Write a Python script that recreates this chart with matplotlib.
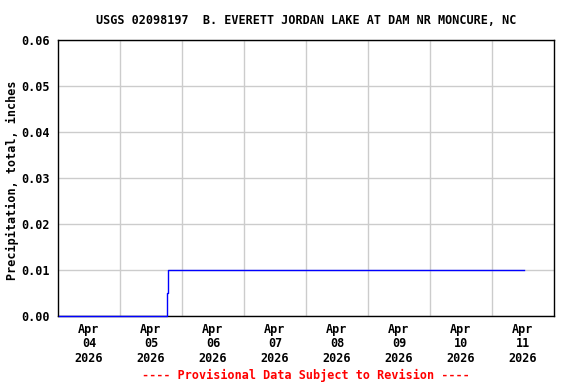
import matplotlib
matplotlib.use("Agg")
import matplotlib.pyplot as plt
import matplotlib.dates as mdates
import numpy as np
import pandas as pd

title = "USGS 02098197  B. EVERETT JORDAN LAKE AT DAM NR MONCURE, NC"
ylabel = "Precipitation, total, inches"
footer = "---- Provisional Data Subject to Revision ----"

times = pd.to_datetime([
    "2026-04-04 00:15", "2026-04-05 18:00", "2026-04-05 18:15",
    "2026-04-05 18:30", "2026-04-11 12:30",
])
values = [0.00, 0.005, 0.005, 0.01, 0.01]

xlim = (pd.Timestamp("2026-04-04 00:00"), pd.Timestamp("2026-04-12 00:00"))
label_days = pd.date_range("2026-04-04 12:00", "2026-04-11 12:00", freq="D")
grid_days = pd.date_range("2026-04-05", "2026-04-11", freq="D")
yticks = [0.00, 0.01, 0.02, 0.03, 0.04, 0.05, 0.06]

fam = "DejaVu Sans Mono"
fs = 8.5
fig = plt.figure(figsize=(5.76, 3.84), dpi=100)
ax = fig.add_axes([58/576, 1-316/384, (554-58)/576, (316-40)/384])

ax.step(times, values, where="post", color="#0000ff", lw=1.0, zorder=4, clip_on=False)

ax.set_xlim(*xlim)
ax.set_ylim(0, 0.06)
ax.set_yticks(yticks)
ax.set_yticklabels([f"{v:.2f}" for v in yticks], fontfamily=fam, fontweight="bold", fontsize=fs)
ax.set_xticks(label_days)
ax.set_xticklabels([d.strftime("%b\n%d\n%Y") for d in label_days], fontfamily=fam,
                   fontweight="bold", fontsize=fs, linespacing=1.15)
ax.tick_params(axis="x", length=0, pad=5)
ax.tick_params(axis="y", length=0, pad=6)
ax.set_xticks(grid_days, minor=True)
ax.tick_params(axis="x", which="minor", length=0)
ax.grid(True, which="minor", axis="x", color="#cccccc", lw=1)
ax.grid(True, which="major", axis="y", color="#cccccc", lw=1)
ax.grid(False, which="major", axis="x")
for s in ax.spines.values():
    s.set_linewidth(1.0)
    s.set_zorder(2)
ax.set_axisbelow(True)

fig.text(306/576, 1-20/384, title, ha="center", va="center", fontfamily=fam,
         fontweight="bold", fontsize=fs)
fig.text(12/576, 1-180/384, ylabel, ha="center", va="center", rotation=90,
         fontfamily=fam, fontweight="bold", fontsize=fs)
fig.text(306/576, 1-375/384, footer, ha="center", va="center", fontfamily=fam,
         fontweight="bold", fontsize=fs, color="#ff0000")

fig.savefig("out.png", dpi=100)
